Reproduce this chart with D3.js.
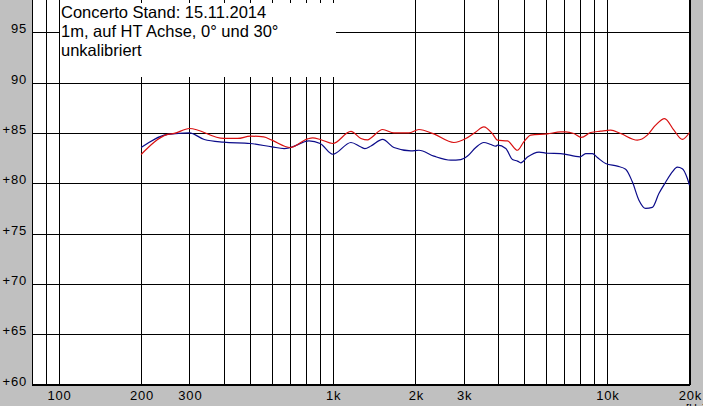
<!DOCTYPE html>
<html><head><meta charset="utf-8">
<script src="https://cdn.jsdelivr.net/npm/d3@7"></script>
<style>
html,body{margin:0;padding:0;background:#c0c0c0;}
svg{display:block;}
</style></head>
<body>
<svg id="chart" width="703" height="406"></svg>
<script>
// ---- data ----
const titleLines = ["Concerto Stand: 15.11.2014", "1m, auf HT Achse, 0° und 30°", "unkalibriert"];
const yTicks = [60, 65, 70, 75, 80, 85, 90, 95, 100];
const yTickLabels = ["+60", "+65", "+70", "+75", "+80", "+85", "90", "95", ""];
const xGrid = [90, 100, 200, 300, 400, 500, 600, 700, 800, 900, 1000, 2000, 3000, 4000, 5000, 6000, 7000, 8000, 9000, 10000, 20000];
const xTicks = [100, 200, 300, 1000, 2000, 3000, 10000, 20000];
const xTickLabels = ["100", "200", "300", "1k", "2k", "3k", "10k", "20k"];

// 0° (red)
const redFreq = [200, 250, 264, 300, 400, 450, 500, 560, 600, 700, 810, 845, 900, 1000, 1165, 1267, 1340, 1378, 1520, 1671, 1895, 2061, 2337, 2764, 3057, 3324, 3555, 3825, 3988, 4337, 4717, 4973, 5273, 6066, 6781, 7071, 7562, 8067, 8722, 9484, 10316, 11218, 12904, 14035, 15046, 16227, 17545, 18826, 20000];
const redDb   = [82.86, 84.85, 84.95, 85.44, 84.45, 84.45, 84.68, 84.6, 84.28, 83.55, 84.41, 84.5, 84.35, 83.95, 85.15, 84.45, 84.3, 84.5, 85.34, 85.0, 85.0, 85.34, 84.9, 84.05, 84.45, 85.1, 85.6, 84.9, 84.28, 84.21, 83.28, 84.11, 84.78, 84.9, 85.1, 85.1, 84.94, 84.55, 85.04, 85.17, 85.27, 84.94, 84.28, 84.78, 85.77, 86.43, 85.27, 84.35, 85.04];
// 30° (blue)
const blueFreq = [200, 250, 300, 340, 400, 500, 600, 665, 700, 819, 900, 1000, 1165, 1267, 1310, 1378, 1520, 1671, 1927, 2061, 2337, 2696, 2931, 3101, 3324, 3555, 3771, 3932, 3988, 4276, 4523, 4717, 4850, 5129, 5654, 6066, 6781, 7973, 8364, 8848, 9226, 9892, 10911, 11700, 12377, 13080, 13836, 14636, 15467, 16362, 17312, 18052, 18826, 19633, 20000];
const blueDb   = [83.55, 84.85, 85.0, 84.35, 84.08, 83.95, 83.62, 83.45, 83.55, 84.21, 83.95, 82.88, 84.05, 83.6, 83.45, 83.7, 84.35, 83.55, 83.22, 83.28, 82.7, 82.3, 82.35, 82.7, 83.55, 84.05, 83.85, 83.68, 83.78, 83.45, 82.36, 82.2, 82.03, 82.6, 83.1, 82.98, 82.95, 82.62, 82.95, 82.95, 82.56, 81.96, 81.7, 81.4, 80.14, 78.32, 77.5, 77.6, 78.98, 80.1, 81.13, 81.6, 81.45, 80.5, 79.8];

// ---- layout ----
const svg = d3.select("#chart");
const L = 32, R = 689.5, B = 384.5;
const x = d3.scaleLog().domain([80, 20000]).range([L, R]);
const y = d3.scaleLinear().domain([60, 95]).range([B, 32.3]);
const yTop = -30;

svg.append("rect").attr("x", 0).attr("y", 0).attr("width", 703).attr("height", 406).attr("fill", "#c0c0c0");
svg.append("rect").attr("x", L).attr("y", yTop).attr("width", R - L).attr("height", B - yTop).attr("fill", "#ffffff");

const grid = svg.append("g").attr("stroke", "#000").attr("stroke-width", 1).attr("shape-rendering", "crispEdges");
xGrid.forEach(f => {
  const xx = Math.round(x(f)) + 0.5;
  grid.append("line").attr("x1", xx).attr("x2", xx).attr("y1", yTop).attr("y2", B);
});
yTicks.forEach(v => {
  const yy = Math.round(y(v)) + 0.5;
  grid.append("line").attr("x1", L).attr("x2", R).attr("y1", yy).attr("y2", yy);
});
// plot frame
grid.append("line").attr("x1", L + 0.5).attr("x2", L + 0.5).attr("y1", yTop).attr("y2", B);
grid.append("line").attr("x1", Math.round(R) - 0.5).attr("x2", Math.round(R) - 0.5).attr("y1", yTop).attr("y2", B);
grid.append("line").attr("x1", L).attr("x2", R).attr("y1", Math.round(B) - 0.5).attr("y2", Math.round(B) - 0.5);

// curves
const line = (fs, ds) => d3.line().x((d, i) => x(fs[i])).y((d, i) => y(ds[i])).curve(d3.curveMonotoneX)(ds);
svg.append("path").attr("d", line(blueFreq, blueDb)).attr("fill", "none").attr("stroke", "#0b0b8a").attr("stroke-width", 1.2);
svg.append("path").attr("d", line(redFreq, redDb)).attr("fill", "none").attr("stroke", "#d81010").attr("stroke-width", 1.2);

// annotation box
svg.append("rect").attr("x", Math.round(x(100)) + 1).attr("y", 3).attr("width", 336 - Math.round(x(100)) - 1).attr("height", 74).attr("fill", "#fff");
const tg = svg.append("g").attr("font-family", "'Liberation Sans', Arial, sans-serif").attr("font-size", 16.5).attr("fill", "#000");
titleLines.forEach((t, i) => {
  tg.append("text").attr("x", 61).attr("y", 17.5 + i * 19).text(t);
});

// y labels
const yl = svg.append("g").attr("font-family", "'Liberation Sans', Arial, sans-serif").attr("font-size", 13).attr("letter-spacing", "0.8px").attr("fill", "#000").attr("text-anchor", "end");
yTicks.forEach((v, i) => {
  if (yTickLabels[i]) yl.append("text").attr("x", 27).attr("y", Math.round(y(v)) + 1).text(yTickLabels[i]);
});
// x labels
const xl = svg.append("g").attr("font-family", "'Liberation Sans', Arial, sans-serif").attr("font-size", 13).attr("letter-spacing", "0.8px").attr("fill", "#000").attr("text-anchor", "middle");
xTicks.forEach((f, i) => {
  xl.append("text").attr("x", x(f) + 1).attr("y", 399.5).text(xTickLabels[i]);
});
svg.append("text").attr("x", 686).attr("y", 412).attr("font-family", "'Liberation Sans', Arial, sans-serif").attr("font-size", 11).text("[Hz]");
</script>
</body></html>
